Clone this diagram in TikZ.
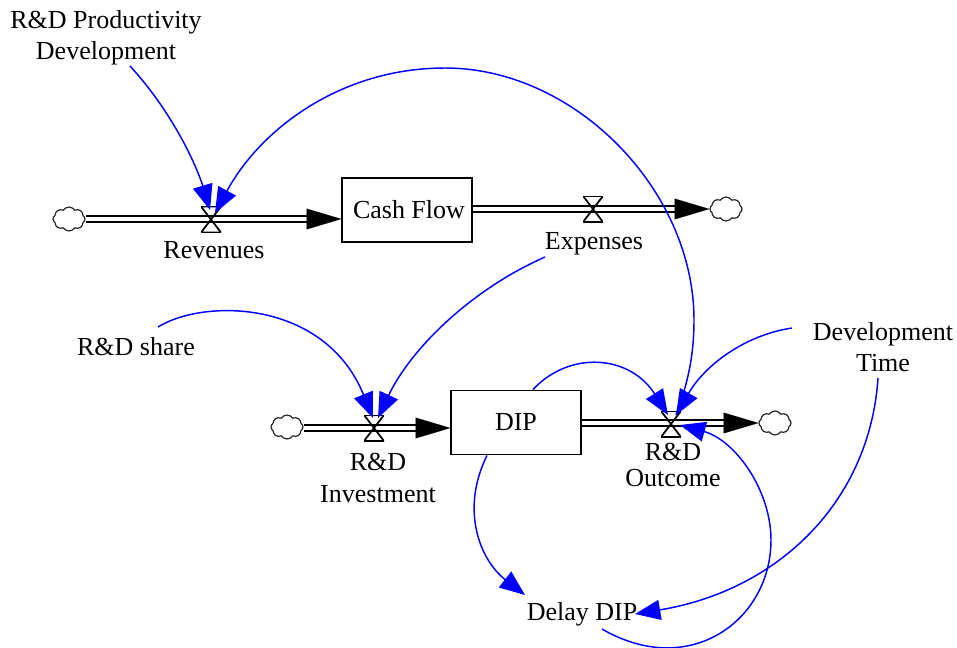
\documentclass[tikz,border=0pt]{standalone}
\usepackage{fontspec}
\setmainfont{Liberation Serif}
\usetikzlibrary{arrows.meta,shapes.symbols}
\tikzset{
  lbl/.style={inner sep=0pt,align=center,font=\fontsize{19.5}{23.3}\selectfont},
  stock/.style={draw,line width=0.95pt,fill=white,minimum width=97.5pt,minimum height=48pt,inner sep=0pt,font=\fontsize{19.5}{23.3}\selectfont},
  valve/.style={inner sep=0pt,minimum width=15pt,minimum height=19.5pt,
    path picture={\draw[line width=1.3pt] (path picture bounding box.north west) -- (path picture bounding box.south east) -- (path picture bounding box.south west) -- (path picture bounding box.north east) -- cycle;}},
  sky/.style={cloud,cloud puffs=8,cloud puff arc=115,aspect=1.25,draw=black!85,line width=0.9pt,fill=white,inner sep=0pt,minimum width=24pt,minimum height=18pt},
  flow/.style={double,double distance=3pt,line width=1.4pt},
  flowtip/.style={-{Triangle[length=26pt,width=15.5pt]},line width=0.1pt},
  lnk/.style={blue,line width=1.1pt,-{Triangle[length=19pt,width=15pt]}},
}
\begin{document}
\begin{tikzpicture}[x=0.75pt,y=-0.75pt]
\useasboundingbox (0,0) rectangle (957,647);
% stocks and labels
\node[stock] (cash) at (407,210) {\hspace*{3pt}Cash Flow};
\node[stock] (dip) at (516,422.5) {DIP};
\node[lbl] (prod) at (106,37.5) {R\&D Productivity\\Development};
\node[lbl] (rev) at (214,250) {Revenues};
\node[lbl] (exp) at (594,244) {Expenses};
\node[lbl] (share) at (136,347) {R\&D share};
\node[lbl] (inv) at (378,478) {R\&D\\Investment};
\node[lbl] (out) at (673,465) {R\&D\\[-3.8pt]Outcome};
\node[lbl] (devt) at (883,347) {Development\\Time};
\node[lbl] (delay) at (582,614) {Delay DIP};
% clouds
\node[sky] (src1) at (69,219) {};
\node[sky] (snk1) at (726,209) {};
\node[sky] (src2) at (287,427) {};
\node[sky] (snk2) at (775,423) {};
% pipes
\coordinate (base1) at (307,219);
\coordinate (base2) at (675,209);
\coordinate (base3) at (416,428);
\coordinate (base4) at (724,423);
\draw[flow] (src1.east) -- (base1);
\draw[flowtip] (base1) -- (cash.west |- base1);
\draw[flow] (cash.east |- base2) -- (base2);
\draw[flowtip] (base2) -- (snk1.west);
\draw[flow] (src2.east |- base3) -- (base3);
\draw[flowtip] (base3) -- (dip.west |- base3);
\draw[flow] (dip.east |- base4) -- (base4);
\draw[flowtip] (base4) -- (snk2.west);
% valves
\node[valve] (v1) at (211,219.5) {};
\node[valve] (v2) at (593,209) {};
\node[valve] (v3) at (374,428) {};
\node[valve] (v4) at (671,424) {};
% links
\draw[lnk] ([shift={(24,28.5)}]prod.center) .. controls (175,115) and (198,170) .. ([shift={(-1,-9.5)}]v1.center);
\draw[lnk] ([shift={(5,-9)}]v4.center) .. controls (686,388) and (694,360) .. (694,320) .. controls (694,190) and (575,68) .. (445,68) .. controls (340,68) and (260,130) .. ([shift={(4,-6.5)}]v1.center);
\draw[lnk] ([shift={(-49,13)}]exp.center) .. controls (470,290) and (410,350) .. ([shift={(4,-10)}]v3.center);
\draw[lnk] ([shift={(22,-20)}]share.center) .. controls (205,298) and (325,300) .. ([shift={(-1,-10)}]v3.center);
\draw[lnk] ([shift={(17,-33)}]dip.center) .. controls (570,350) and (630,355) .. ([shift={(-3,-9)}]v4.center);
\draw[lnk] ([shift={(-91,-19)}]devt.center) .. controls (745,335) and (705,365) .. ([shift={(5,-9)}]v4.center);
\draw[lnk] ([shift={(-5,31)}]devt.center) .. controls (870,500) and (780,590) .. ([shift={(53,0)}]delay.center);
\draw[lnk] ([shift={(-29,33)}]dip.center) .. controls (460,510) and (480,560) .. ([shift={(-57,-19)}]delay.center);
\draw[lnk] ([shift={(20,15)}]delay.center) .. controls (690,680) and (771,620) .. (771,540) .. controls (771,490) and (735,440) .. ([shift={(9,1)}]v4.center);
\end{tikzpicture}
\end{document}
